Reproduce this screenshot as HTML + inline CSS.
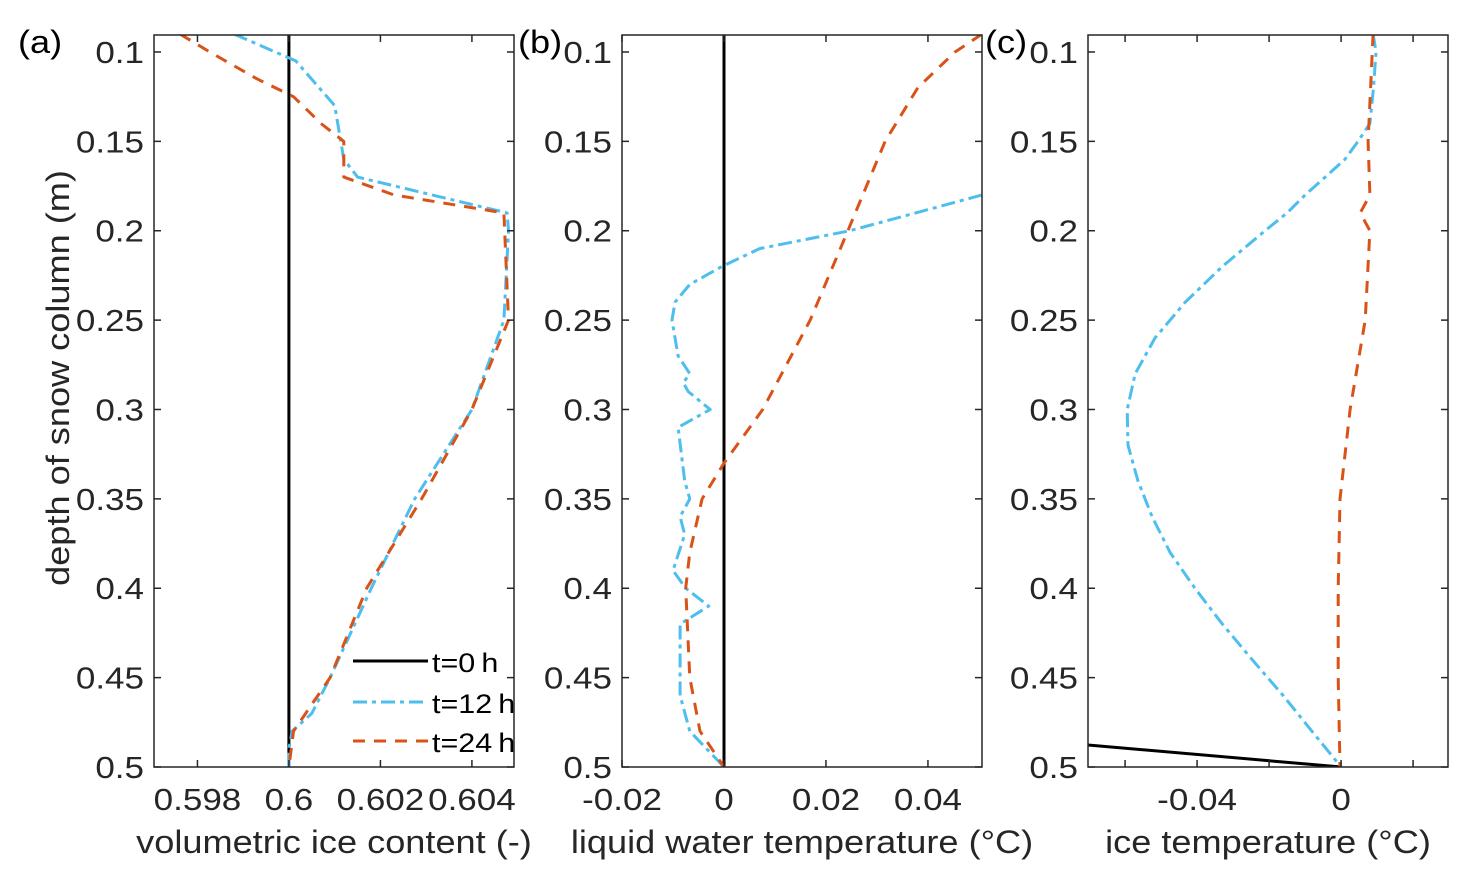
<!DOCTYPE html>
<html><head><meta charset="utf-8"><style>
body{margin:0;background:#fff}
svg text{font-family:"Liberation Sans",sans-serif;fill:#262626}
</style></head><body>
<svg id="fig" width="1468" height="876" viewBox="0 0 1468 876"></svg>
<script>
// Data (depth in m)
const aBlueD=[0.09,0.105,0.13,0.16,0.17,0.19,0.2,0.25,0.3,0.35,0.4,0.45,0.47,0.48,0.49,0.5];
const aBlueV=[0.5988,0.60015,0.6010,0.6012,0.6015,0.60477,0.6048,0.6047,0.6040,0.60275,0.6018,0.6009,0.6005,0.60007,0.6,0.6];
const aOrD=[0.09,0.1,0.115,0.125,0.14,0.15,0.17,0.18,0.19,0.25,0.3,0.35,0.4,0.45,0.48,0.5];
const aOrV=[0.59762,0.59827,0.5993,0.6001,0.6007,0.6012,0.6012,0.6023,0.6047,0.6048,0.604,0.6029,0.6017,0.6009,0.6001,0.6];
const aBlkD=[0.09,0.5], aBlkV=[0.6,0.6];
const bBlueD=[0.18,0.2,0.21,0.22,0.23,0.24,0.25,0.27,0.28,0.285,0.29,0.3,0.31,0.34,0.35,0.36,0.37,0.39,0.4,0.41,0.42,0.46,0.48,0.5];
const bBlueV=[0.0506,0.0247,0.007,-0.0004,-0.0067,-0.0096,-0.0102,-0.009,-0.0067,-0.008,-0.007,-0.0027,-0.009,-0.0077,-0.0067,-0.0086,-0.0077,-0.01,-0.0075,-0.003,-0.0086,-0.0086,-0.0067,0];
const bOrD=[0.09,0.1,0.12,0.15,0.2,0.25,0.3,0.33,0.35,0.38,0.4,0.45,0.48,0.5];
const bOrV=[0.0506,0.0453,0.038,0.0316,0.0243,0.0169,0.0076,0,-0.0043,-0.0067,-0.0075,-0.0067,-0.0047,0];
const bBlkD=[0.09,0.5], bBlkV=[0,0];
const cBlueD=[0.09,0.1,0.12,0.14,0.15,0.16,0.17,0.18,0.19,0.2,0.22,0.24,0.26,0.28,0.3,0.32,0.34,0.36,0.38,0.4,0.42,0.44,0.46,0.48,0.5];
const cBlueV=[0.0089,0.0097,0.009,0.008,0.0047,0.0011,-0.0044,-0.01,-0.015,-0.0211,-0.033,-0.0433,-0.0517,-0.0572,-0.0594,-0.0592,-0.0564,-0.0525,-0.0475,-0.0406,-0.033,-0.0247,-0.0161,-0.0081,0];
const cOrD=[0.09,0.15,0.18,0.19,0.2,0.25,0.3,0.35,0.4,0.45,0.5];
const cOrV=[0.0089,0.0075,0.008,0.0053,0.008,0.0067,0.0025,-0.0003,-0.0008,-0.0008,-0.0003];
const cBlkD=[0.486,0.5], cBlkV=[-0.08,0];
const yTicks=[0.1,0.15,0.2,0.25,0.3,0.35,0.4,0.45,0.5];
const yTickLabels=["0.1","0.15","0.2","0.25","0.3","0.35","0.4","0.45","0.5"];
const aXTicks=[0.598,0.6,0.602,0.604], aXLabels=["0.598","0.6","0.602","0.604"];
const bXTicks=[-0.02,0,0.02,0.04], bXLabels=["-0.02","0","0.02","0.04"];
const cXTicks=[-0.06,-0.04,-0.02,0,0.02], cXLabels=["","-0.04","","0",""];

const NS="http://www.w3.org/2000/svg";
const svg=document.getElementById('fig');
function mk(tag,attrs,parent){const e=document.createElementNS(NS,tag);for(const k in attrs)e.setAttribute(k,attrs[k]);(parent||svg).appendChild(e);return e;}
function txt(x,y,s,size,anchor,parent,fill){
  const t=mk('text',{x:0,y:0,'text-anchor':anchor,'font-size':size,transform:'translate('+x+','+y+') scale(1.13,1)'},parent);
  if(fill)t.setAttribute('style','fill:'+fill);
  t.textContent=s;return t;
}
const TOP=35,BOT=767,y0=0.0905,y1=0.5;
function Y(d){return TOP+(d-y0)/(y1-y0)*(BOT-TOP);}
const blue="#4DBEEE",orange="#D95319";
function panel(id,L,R,x0,x1,xt,xl,xlabel,tag,tagX,series){
  const X=v=>L+(v-x0)/(x1-x0)*(R-L);
  const g=mk('g',{});
  
  
  const cp=mk('clipPath',{id:'cp'+id},g);mk('rect',{x:L,y:TOP,width:R-L,height:BOT-TOP},cp);
  const lines=mk('g',{'clip-path':'url(#cp'+id+')'},g);
  series.forEach(s=>{
    const pts=s.d.map((d,i)=>X(s.v[i]).toFixed(1)+','+Y(d).toFixed(1)).join(' ');
    const p=mk('polyline',{points:pts,fill:'none',stroke:s.c,'stroke-width':s.w||3,'stroke-dasharray':s.dash||'none','stroke-linejoin':'round'},lines);
    
    
  });
  const ax=mk('rect',{x:L,y:TOP,width:R-L,height:BOT-TOP,fill:'none',stroke:'#262626','stroke-width':1.5},g);
  
  
  yTicks.forEach((t,i)=>{const y=Y(t);
    mk('line',{x1:L,x2:L+7,y1:y,y2:y,stroke:'#262626','stroke-width':1.5},g);
    mk('line',{x1:R,x2:R-7,y1:y,y2:y,stroke:'#262626','stroke-width':1.5},g);
    const tx=txt(L-10,y+11,yTickLabels[i],31,'end',g);
    
    
  });
  xt.forEach((t,i)=>{const x=X(t);
    mk('line',{x1:x,x2:x,y1:BOT,y2:BOT-7,stroke:'#262626','stroke-width':1.5},g);
    mk('line',{x1:x,x2:x,y1:TOP,y2:TOP+7,stroke:'#262626','stroke-width':1.5},g);
    if(xl[i]){const tx=txt(x,810,xl[i],31,'middle',g);
    
    }
  });
  const xlab=txt((L+R)/2,853,xlabel,32,'middle',g);
  
  
  const tg=txt(tagX,53,tag,32,'start',g,'#000');
  
  
  return X;
}
const dashBlue='14 5 4 5', dashOr='12 9';
panel('a',154,514,0.59705,0.60492,aXTicks,aXLabels,'volumetric ice content (-)','(a)',18,[
 {d:aBlkD,v:aBlkV,c:'#000',name:'line-t0'},
 {d:aBlueD,v:aBlueV,c:blue,dash:dashBlue,name:'line-t12'},
 {d:aOrD,v:aOrV,c:orange,dash:dashOr,name:'line-t24'}]);
panel('b',622,982,-0.02,0.0506,bXTicks,bXLabels,'liquid water temperature (°C)','(b)',518,[
 {d:bBlkD,v:bBlkV,c:'#000',name:'line-t0'},
 {d:bBlueD,v:bBlueV,c:blue,dash:dashBlue,name:'line-t12'},
 {d:bOrD,v:bOrV,c:orange,dash:dashOr,name:'line-t24'}]);
panel('c',1088,1448,-0.0703,0.0297,cXTicks,cXLabels,'ice temperature (°C)','(c)',985,[
 {d:cBlkD,v:cBlkV,c:'#000',name:'line-t0'},
 {d:cBlueD,v:cBlueV,c:blue,dash:dashBlue,name:'line-t12'},
 {d:cOrD,v:cOrV,c:orange,dash:dashOr,name:'line-t24'}]);
const yt=mk('text',{x:0,y:0,'text-anchor':'middle','font-size':32,transform:'translate(69,378) rotate(-90) scale(1.13,1)'});
yt.textContent='depth of snow column (m)';


const lg=mk('g',{});


const ent=[['t=0\u2009h','#000','none',661],['t=12\u2009h',blue,dashBlue,702],['t=24\u2009h',orange,dashOr,741]];
ent.forEach(e=>{
  const l=mk('line',{x1:353,x2:428,y1:e[3],y2:e[3],stroke:e[1],'stroke-width':3,'stroke-dasharray':e[2]},lg);
  
  
  const t=txt(432,e[3]+11,e[0],27,'start',lg,'#000');
  
  
});
</script>
</body></html>
